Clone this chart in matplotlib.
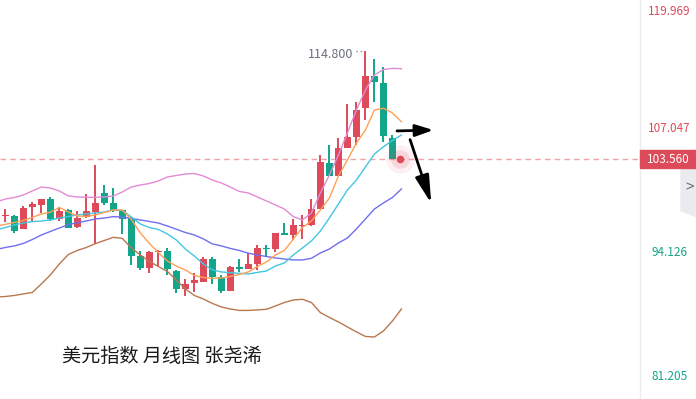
import numpy as np
import matplotlib.pyplot as plt
from matplotlib.patches import Rectangle, Polygon
from matplotlib.transforms import blended_transform_factory

plt.rcParams['font.family'] = ['Noto Sans CJK SC', 'DejaVu Sans']

# monthly candles (open, high, low, close)
opens = [97.67, 97.62, 96.27, 98.59, 98.80, 99.39, 97.34, 98.25, 96.51, 97.49,
         98.01, 100.02, 99.01, 98.22, 97.41, 93.45, 92.24, 93.90, 93.98, 91.92,
         89.98, 90.67, 90.78, 93.14, 91.24, 89.84, 92.31, 92.10, 92.62, 94.32,
         94.18, 95.85, 95.64, 96.61, 96.68, 98.35, 103.15, 101.79, 104.71, 105.89,
         108.91, 112.21, 111.51, 105.75]
highs = [98.35, 97.73, 98.66, 99.05, 99.44, 99.60, 98.53, 98.35, 98.14, 99.95,
         102.97, 100.85, 100.54, 98.27, 97.52, 93.98, 93.98, 94.03, 94.26, 92.00,
         91.03, 91.71, 93.38, 93.32, 91.47, 92.41, 93.11, 93.80, 94.60, 94.60,
         95.88, 96.92, 97.34, 97.73, 99.36, 103.98, 104.99, 105.72, 109.29, 109.50,
         114.80, 113.98, 113.12, 106.06]
lows = [97.00, 95.88, 96.22, 97.10, 97.90, 97.10, 97.13, 96.35, 96.40, 97.45,
        94.71, 98.80, 98.04, 95.75, 92.52, 92.00, 91.71, 92.41, 91.47, 89.57,
        89.29, 89.67, 90.72, 90.54, 89.57, 89.78, 91.82, 92.05, 92.00, 93.32,
        93.84, 95.64, 95.12, 95.19, 96.63, 98.30, 101.78, 101.74, 104.66, 105.02,
        107.63, 109.50, 105.36, 103.51]
closes = [97.72, 96.09, 98.43, 98.90, 99.39, 97.31, 98.18, 96.40, 97.38, 98.14,
          99.01, 99.01, 98.22, 97.36, 93.45, 92.24, 93.90, 93.98, 92.07, 89.98,
          90.54, 90.99, 93.14, 91.30, 89.84, 92.34, 92.10, 92.62, 94.26, 94.18,
          95.85, 95.67, 96.65, 96.68, 98.35, 103.25, 101.82, 104.71, 105.85, 108.67,
          112.21, 111.59, 105.99, 103.56]

# indicator lines, index -1 .. 44
boll_upper = [99.08, 99.39, 99.55, 99.81, 100.23, 100.64, 100.54, 100.23, 99.71, 99.60,
              99.57, 99.57, 99.60, 99.71, 100.12, 100.64, 100.85, 101.01, 101.27, 101.69,
              101.84, 102.00, 102.05, 101.79, 101.37, 101.06, 100.64, 100.18, 100.02, 99.60,
              99.19, 98.77, 98.35, 97.55, 97.21, 97.94, 100.02, 101.89, 103.98, 106.27,
              108.67, 110.75, 112.31, 112.89, 113.01, 112.97]
boll_lower = [89.18, 89.23, 89.34, 89.50, 89.65, 90.54, 91.47, 92.62, 93.61, 94.03,
              94.34, 94.74, 95.07, 95.40, 95.28, 94.29, 93.56, 92.88, 92.36, 91.84,
              90.95, 90.02, 89.34, 88.97, 88.51, 88.14, 87.93, 87.78, 87.78, 87.83,
              87.90, 88.24, 88.61, 88.87, 88.94, 88.61, 87.55, 87.05, 86.58, 86.06,
              85.54, 85.07, 85.01, 85.64, 86.68, 87.93]
boll_mid = [94.13, 94.34, 94.50, 94.76, 95.17, 95.64, 96.01, 96.37, 96.72, 96.92,
            97.10, 97.31, 97.41, 97.55, 97.52, 97.36, 97.21, 97.05, 96.89, 96.58,
            96.24, 95.90, 95.64, 95.23, 94.71, 94.50, 94.24, 94.03, 93.74, 93.56,
            93.40, 93.25, 93.14, 93.04, 93.04, 93.21, 93.77, 94.18, 94.81, 95.33,
            96.27, 97.31, 98.35, 98.98, 99.55, 100.44]
ma_cyan = [96.16, 96.42, 96.68, 96.89, 97.03, 97.10, 97.21, 97.41, 97.57, 97.73,
           97.83, 97.94, 98.04, 98.25, 98.20, 97.52, 96.79, 96.42, 96.22, 95.75,
           95.12, 94.18, 93.45, 92.62, 92.00, 91.79, 91.71, 91.65, 91.58, 91.74,
           91.89, 92.41, 92.73, 93.56, 94.29, 95.02, 96.06, 97.41, 98.87, 100.33,
           101.37, 102.73, 104.08, 104.84, 105.49, 106.06]
ma_orange = [96.58, 96.74, 96.95, 97.15, 97.47, 97.83, 98.01, 98.51, 98.04, 97.62,
             97.57, 97.73, 97.99, 98.25, 98.25, 97.26, 95.85, 94.76, 93.82, 92.93,
             92.41, 92.00, 91.42, 91.21, 91.13, 91.16, 91.32, 91.53, 91.79, 92.36,
             92.83, 93.56, 94.03, 95.23, 96.42, 97.10, 98.25, 99.50, 101.79, 103.46,
             105.23, 106.58, 108.67, 108.85, 108.36, 107.45]

axis_ticks = [119.969, 107.047, 94.126, 81.205]
last_price = 103.56
peak_label = "114.800"
title_text = "美元指数 月线图 张尧浠"

UP = '#dd4b5a'
DOWN = '#12a58a'

fig = plt.figure(figsize=(6.96, 3.99), dpi=100)
ax = fig.add_axes([0, 0, 640 / 696, 1])
ymax, ymin = 120.13, 78.55
ax.set_ylim(ymin, ymax)
ax.set_xlim(-0.59, 70.5)

x = np.arange(len(opens))
o = np.array(opens)
c = np.array(closes)
colors = [UP if cc >= oo else DOWN for oo, cc in zip(o, c)]
ax.vlines(x, lows, highs, colors=colors, lw=1.4, zorder=3)
body = np.maximum(np.abs(c - o), 0.1)
ax.bar(x, body, bottom=np.minimum(o, c), width=0.72, color=colors, zorder=4)

lx = np.arange(-1, 45)
ax.plot(lx, boll_upper, color='#e28ad6', lw=1.0, zorder=5)
ax.plot(lx, boll_lower, color='#b9774f', lw=1.0, zorder=5)
ax.plot(lx, boll_mid, color='#6f6ff0', lw=1.0, zorder=5)
ax.plot(lx, ma_cyan, color='#42c6e2', lw=1.0, zorder=5)
ax.plot(lx, ma_orange, color='#ffa055', lw=1.0, zorder=5)

# last price line and glowing dot
ax.axhline(last_price, color='#f0a3ab', lw=1.0, ls=(0, (4, 3)), zorder=2)
ax.scatter([43.86], [last_price], s=420, color=UP, alpha=0.08, lw=0, zorder=6)
ax.scatter([43.86], [last_price], s=180, color=UP, alpha=0.15, lw=0, zorder=6)
ax.scatter([43.86], [last_price], s=30, color=UP, lw=0, zorder=7)

# peak annotation
peak_i = int(np.argmax(highs))
ax.plot([peak_i - 1.1, peak_i], [highs[peak_i], highs[peak_i]], color='#8a8c99',
        lw=1.0, ls=(0, (1, 2)), zorder=5)
ax.text(peak_i - 1.37, highs[peak_i] - 0.4, peak_label, ha='right', va='center',
        fontsize=9, color='#6b6e80')

# hand-drawn arrows
ax.annotate('', xy=(47.86, 106.58), xytext=(43.2, 106.48),
            arrowprops=dict(arrowstyle='-|>,head_length=0.9,head_width=0.3',
                            color='black', lw=2, mutation_scale=12), zorder=8)
ax.annotate('', xy=(47.41, 98.66), xytext=(44.86, 105.86),
            arrowprops=dict(arrowstyle='-|>,head_length=1.4,head_width=0.35',
                            color='black', lw=2, mutation_scale=12), zorder=8)

ax.text(6.3, 83.0, title_text, fontsize=13.8, color='#1a1a1a', va='center')

ax.set_xticks([])
ax.set_yticks([])
for s in ['left', 'bottom', 'top']:
    ax.spines[s].set_visible(False)
ax.spines['right'].set_color('#ececec')
ax.spines['right'].set_linewidth(1.0)

# right axis labels
ty = ax.get_yaxis_transform()
for v in axis_ticks:
    col = UP if v > last_price else DOWN
    ax.text(1.046, min(v - 0.3, ymax - 1.2), f"{v:.3f}", transform=ty, ha='center',
            va='center', fontsize=8.5, color=col, clip_on=False)

bt = blended_transform_factory(fig.transFigure, ax.transData)
tab = Polygon([(681 / 696, last_price - 0.8), (1.0, last_price - 0.8),
               (1.0, last_price - 6.0), (681 / 696, last_price - 5.4)],
              closed=True, transform=bt, color='#ebebef', zorder=1, clip_on=False)
fig.patches.append(tab)
fig.text(689.5 / 696, last_price - 3.0, '>', transform=bt, fontsize=11,
         color='#6b6e80', ha='center', va='center')
rect = Rectangle((640 / 696, last_price - 0.92), 56 / 696, 1.84, transform=bt,
                 color=UP, zorder=2, clip_on=False)
fig.patches.append(rect)
fig.text(668 / 696, last_price, f"{last_price:.3f}", transform=bt, color='white',
         fontsize=8.5, ha='center', va='center')

fig.savefig("out.png", dpi=100)
